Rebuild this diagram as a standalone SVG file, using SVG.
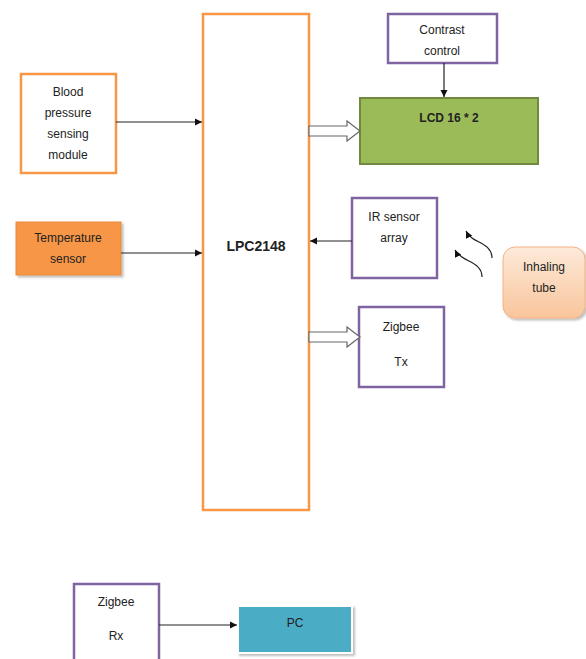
<svg xmlns="http://www.w3.org/2000/svg" width="586" height="659" viewBox="0 0 586 659">
<style>
text{font-family:"Liberation Sans","Open Sans",sans-serif;font-size:12px;fill:#222;text-anchor:middle}
.b{font-weight:bold}
.org{fill:#fff;stroke:#F79646;stroke-width:2.5}
.pur{fill:#fff;stroke:#8064A2;stroke-width:2.5}
.ln{stroke:#222;stroke-width:1.2;fill:none}
.blk{fill:#fff;stroke:#666;stroke-width:1.2}
</style>
<defs>
<marker id="ah" markerWidth="8" markerHeight="8" refX="7" refY="4" orient="auto" markerUnits="userSpaceOnUse"><path d="M0,0.5 L7,4 L0,7.5 Z" fill="#111"/></marker>
<linearGradient id="g" x1="0" y1="0" x2="0" y2="1"><stop offset="0" stop-color="#FDEADA"/><stop offset="1" stop-color="#F9C59B"/></linearGradient>
<filter id="sh" x="-10%" y="-10%" width="130%" height="130%"><feDropShadow dx="2" dy="2" stdDeviation="1" flood-color="#000" flood-opacity="0.25"/></filter>
</defs>
<rect width="586" height="659" fill="#fff"/>
<g id="lpc"><rect class="org" x="203" y="14" width="106" height="496"/><text class="b" x="256" y="251" style="font-size:14px">LPC2148</text></g>
<g id="bp"><rect class="org" x="21" y="74" width="95" height="99"/><text x="68" y="96">Blood</text><text x="68" y="117">pressure</text><text x="68" y="138">sensing</text><text x="68" y="159">module</text></g>
<g id="temp"><rect x="16" y="222" width="105" height="53" fill="#F79646" stroke="#E68A3C" stroke-width="1" filter="url(#sh)"/><text x="68" y="242">Temperature</text><text x="68" y="263">sensor</text></g>
<g id="contrast"><rect class="pur" x="388" y="14" width="109" height="49"/><text x="442" y="34">Contrast</text><text x="442" y="55">control</text></g>
<g id="lcd"><rect x="360" y="98" width="178" height="66" fill="#9BBB59" stroke="#71893F" stroke-width="2"/><text class="b" x="449" y="122">LCD 16 * 2</text></g>
<g id="ir"><rect class="pur" x="352" y="198" width="85" height="80"/><text x="394" y="221">IR sensor</text><text x="394" y="242">array</text></g>
<g id="ztx"><rect class="pur" x="359" y="307" width="85" height="80"/><text x="401" y="331">Zigbee</text><text x="401" y="366">Tx</text></g>
<g id="tube"><rect x="503" y="247" width="82" height="71" rx="12" fill="url(#g)" stroke="#F4B183" stroke-width="1" filter="url(#sh)"/><text x="544" y="271">Inhaling</text><text x="544" y="292">tube</text></g>
<g id="zrx"><rect class="pur" x="74" y="584" width="85" height="80"/><text x="116" y="606">Zigbee</text><text x="116" y="640">Rx</text></g>
<g id="pc"><rect x="238" y="606" width="114" height="47" fill="#4BACC6" stroke="#fff" stroke-width="2" filter="url(#sh)"/><text x="295" y="627">PC</text></g>
<g id="connectors">
<line class="ln" x1="116" y1="122" x2="202" y2="122" marker-end="url(#ah)"/>
<line class="ln" x1="121" y1="253" x2="202" y2="253" marker-end="url(#ah)"/>
<line class="ln" x1="352" y1="241" x2="310" y2="241" marker-end="url(#ah)"/>
<line class="ln" x1="444" y1="63" x2="444" y2="97" marker-end="url(#ah)"/>
<line class="ln" x1="159" y1="625" x2="237" y2="625" marker-end="url(#ah)"/>
<path class="blk" d="M309,126 H347 V121 L360,131 L347,141 V136 H309 Z"/>
<path class="blk" d="M309,332 H347 V327 L360,337 L347,347 V342 H309 Z"/>
<path class="ln" d="M492,258 C492,245 478,243 472,238 C468,235 467,233 466,231" marker-end="url(#ah)"/>
<path class="ln" d="M482,277 C482,264 468,262 462,257 C458,254 456,252 455,250" marker-end="url(#ah)"/>
</g>
</svg>
